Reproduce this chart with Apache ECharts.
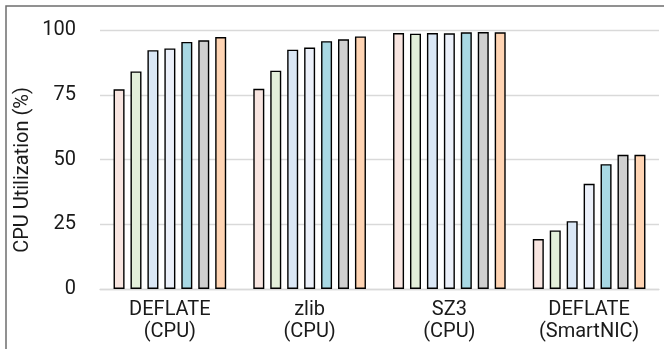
<!DOCTYPE html>
<html>
<head>
<meta charset="utf-8">
<script src="https://cdn.jsdelivr.net/npm/echarts@6/dist/echarts.min.js"></script>
<style>
html,body{margin:0;padding:0;background:#fff;}
#chart{width:664px;height:349px;}
</style>
</head>
<body>
<div id="chart"></div>
<script>
const categories = ['DEFLATE\n(CPU)', 'zlib\n(CPU)', 'SZ3\n(CPU)', 'DEFLATE\n(SmartNIC)'];
const yTicks = [0, 25, 50, 75, 100];
const seriesNames = ['S1', 'S2', 'S3', 'S4', 'S5', 'S6', 'S7'];
const s1 = [77.1, 77.3, 98.8, 19.3];
const s2 = [84.0, 84.3, 98.6, 22.6];
const s3 = [92.2, 92.4, 98.8, 26.2];
const s4 = [92.9, 93.2, 98.7, 40.6];
const s5 = [95.4, 95.7, 99.1, 48.2];
const s6 = [96.0, 96.4, 99.2, 51.8];
const s7 = [97.3, 97.5, 99.1, 51.8];
const seriesData = [s1, s2, s3, s4, s5, s6, s7];
const colors = ['#F8E5E0', '#E3EFDA', '#DAE7F5', '#EBF0FA', '#A8D8E3', '#CFCFCF', '#FFD4B3'];
const yTitle = 'CPU Utilization (%)';

const FONT = 'Roboto';
const chart = echarts.init(document.getElementById('chart'), null, {renderer: 'canvas'});
chart.setOption({
  animation: false,
  backgroundColor: '#fff',
  grid: {left: 100, right: 5, top: 30, bottom: 60, containLabel: false},
  xAxis: {
    type: 'category',
    data: categories,
    axisLine: {show: true, lineStyle: {color: '#d9d9d9', width: 1.3}},
    axisTick: {show: false},
    axisLabel: {fontFamily: FONT, fontSize: 20, color: '#1a1a1a', lineHeight: 22, margin: 10}
  },
  yAxis: {
    type: 'value',
    min: yTicks[0],
    max: yTicks[yTicks.length - 1],
    interval: 25,
    axisLine: {show: false},
    axisTick: {show: false},
    splitLine: {lineStyle: {color: '#d9d9d9', width: 1.3}},
    axisLabel: {fontFamily: FONT, fontSize: 20, color: '#1a1a1a', margin: 24}
  },
  series: seriesData.map((d, i) => ({
    name: seriesNames[i],
    type: 'bar',
    data: d,
    barWidth: 11,
    barGap: '54%',
    itemStyle: {color: colors[i], borderColor: '#000', borderWidth: 1.4}
  })),
  graphic: [
    {type: 'rect', shape: {x: 6, y: 6, width: 800, height: 500}, style: {fill: 'none', stroke: '#6e6e6e', lineWidth: 1.5}, silent: true},
    {type: 'text', x: 23, y: 170, rotation: Math.PI / 2,
     style: {text: yTitle, font: '20px ' + FONT, fill: '#1a1a1a', textAlign: 'center', textVerticalAlign: 'middle'}}
  ]
});
</script>
</body>
</html>
